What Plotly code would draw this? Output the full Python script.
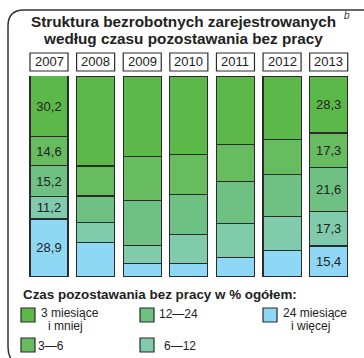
import plotly.graph_objects as go

W, H = 364, 358

# Years and shares (% of all registered unemployed), by time without work
years = ["2007", "2008", "2009", "2010", "2011", "2012", "2013"]
upto_3m = [30.2, 44.8, 40.1, 39.2, 34.0, 31.5, 28.3]
m3_6 = [14.6, 14.9, 21.7, 19.6, 18.3, 17.4, 17.3]
m12_24 = [15.2, 13.1, 22.4, 19.9, 21.1, 21.1, 21.6]
m6_12 = [11.2, 10.1, 9.0, 14.6, 16.9, 16.9, 17.3]
over_24m = [28.9, 17.1, 6.8, 6.7, 9.7, 13.1, 15.4]
labelled_years = ["2007", "2013"]

series = [
    # bottom of the stack first
    ("24 miesiące i więcej", over_24m, "#8ed8f6"),
    ("6—12", m6_12, "#80cbab"),
    ("12—24", m12_24, "#6ec182"),
    ("3—6", m3_6, "#66bc5f"),
    ("3 miesiące i mniej", upto_3m, "#5cb848"),
]

FONT = "Liberation Sans, Arial, sans-serif"
INK = "#222222"
EDGE = "#2b2b2b"
BARGAP = 0.184


def px(x):
    return x / W


def py(y):
    return 1 - y / H


fig = go.Figure()
for name, vals, color in series:
    fig.add_trace(go.Bar(
        x=years, y=vals, name=name,
        marker=dict(color=color, line=dict(color=EDGE, width=1.2)),
        text=[f"{v:.1f}".replace(".", ",") if yr in labelled_years else ""
              for yr, v in zip(years, vals)],
        textposition="inside", insidetextanchor="middle", textangle=0,
        textfont=dict(family=FONT, size=13, color=INK),
        hoverinfo="skip",
    ))

shapes = []
annotations = []

# Frame with rounded left corners
shapes.append(dict(
    type="path", xref="paper", yref="paper",
    path=(f"M {px(366)} {py(10)} L {px(24)} {py(10)} "
          f"Q {px(8)} {py(10)} {px(8)} {py(26)} "
          f"L {px(8)} {py(347)} Q {px(8)} {py(354)} {px(11)} {py(359)}"),
    line=dict(color="#333333", width=1.5),
))

# Title, two lines
for ty, line in [(22, "Struktura bezrobotnych zarejestrowanych"),
                 (39, "według czasu pozostawania bez pracy")]:
    annotations.append(dict(
        x=px(183), y=py(ty), xref="paper", yref="paper", xanchor="center", yanchor="middle",
        text=f"<b>{line}</b>", showarrow=False,
        font=dict(family=FONT, size=15.3, color=INK),
    ))
annotations.append(dict(
    x=px(347), y=py(15), xref="paper", yref="paper", xanchor="center", yanchor="middle",
    text="<i>b</i>", showarrow=False, font=dict(family=FONT, size=10, color="#333333"),
))

# Year boxes above the bars, same width as the bars
half = (1 - BARGAP) / 2
for i, yr in enumerate(years):
    shapes.append(dict(
        type="rect", xref="x", yref="paper",
        x0=i - half, x1=i + half, y0=py(71), y1=py(53),
        fillcolor="white", line=dict(color=EDGE, width=1.2),
    ))
    annotations.append(dict(
        x=i, y=py(62), xref="x", yref="paper", xanchor="center", yanchor="middle",
        text=yr, showarrow=False, font=dict(family=FONT, size=13, color=INK),
    ))

# Legend
annotations.append(dict(
    x=px(21), y=py(294), xref="paper", yref="paper", xanchor="left", yanchor="middle",
    text="<b>Czas pozostawania bez pracy w % ogółem:</b>", showarrow=False,
    font=dict(family=FONT, size=13.4, color=INK),
))

colors = {name: color for name, _, color in series}
legend_items = [
    # name, swatch left, swatch top, label lines (x, y, text)
    ("3 miesiące i mniej", 21, 308, [(39, 312.5, "3 miesiące"), (46, 325.5, "i mniej")]),
    ("12—24", 140, 308, [(157, 314, "12—24")]),
    ("24 miesiące i więcej", 263, 308, [(281, 312.5, "24 miesiące"), (289, 325.5, "i więcej")]),
    ("3—6", 21, 338, [(36, 346, "3—6")]),
    ("6—12", 140, 338, [(162, 346, "6—12")]),
]
for name, sx, sy, lines in legend_items:
    shapes.append(dict(
        type="rect", xref="paper", yref="paper",
        x0=px(sx), x1=px(sx + 14), y0=py(sy), y1=py(sy + 14),
        fillcolor=colors[name], line=dict(color=EDGE, width=1.2),
    ))
    for lx, ly, txt in lines:
        annotations.append(dict(
            x=px(lx), y=py(ly), xref="paper", yref="paper", xanchor="left", yanchor="middle",
            text=txt, showarrow=False, font=dict(family=FONT, size=12, color=INK),
        ))

fig.update_layout(
    width=W, height=H,
    margin=dict(l=0, r=0, t=0, b=0),
    paper_bgcolor="white", plot_bgcolor="white",
    barmode="stack", bargap=BARGAP,
    showlegend=False,
    xaxis=dict(domain=[px(25.7), px(352.0)], range=[-0.5, 6.5], showticklabels=False,
               showgrid=False, zeroline=False, showline=False, fixedrange=True),
    yaxis=dict(domain=[py(277), py(76)], range=[0, 100], showticklabels=False,
               showgrid=False, zeroline=False, showline=False, fixedrange=True),
    shapes=shapes,
    annotations=annotations,
    uniformtext=dict(minsize=13, mode="show"),
)

fig.write_html("out.html")
